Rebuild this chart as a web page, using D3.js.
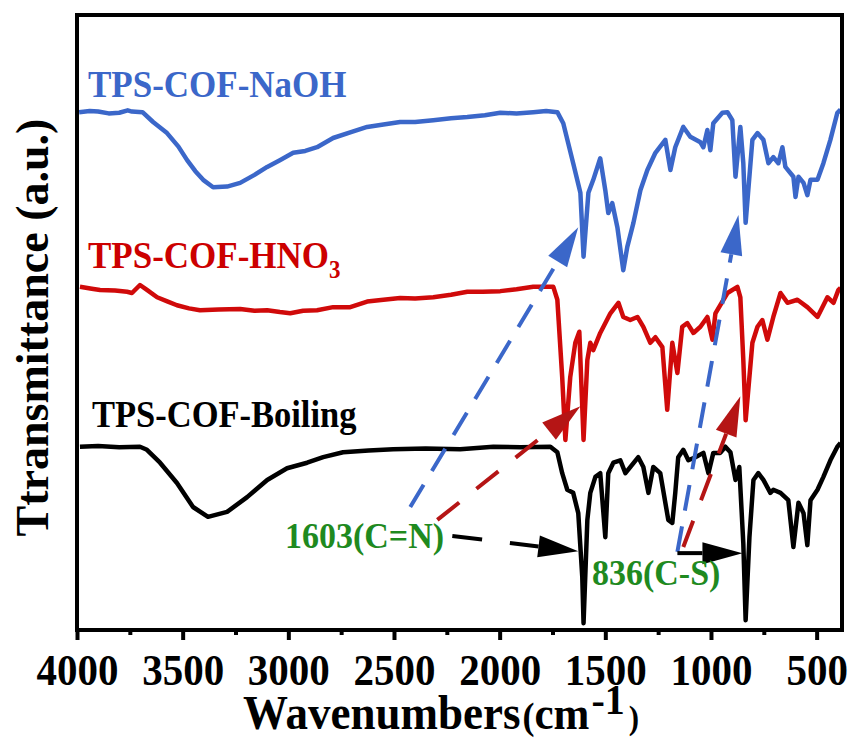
<!DOCTYPE html>
<html>
<head>
<meta charset="utf-8">
<script src="https://cdn.jsdelivr.net/npm/d3@7"></script>
<style>
  body { margin: 0; background: #fff; }
  text { font-family: "Liberation Serif", "Times New Roman", serif; font-weight: bold; }
</style>
</head>
<body>
<div id="chart"></div>
<script>
// FTIR spectra, wavenumber (cm-1) vs transmittance (a.u., curves offset)
var naoh = [
  [3990, 84.2], [3940, 84.4], [3900, 84.3], [3850, 84.0], [3800, 84.1], [3760, 84.5],
  [3740, 84.3], [3690, 84.2], [3640, 82.6], [3574, 80.8], [3520, 78.6],
  [3479, 76.4], [3440, 74.6], [3403, 73.2], [3356, 72.0], [3290, 72.1], [3228, 72.7],
  [3160, 74.0], [3100, 75.3], [3040, 76.4], [2977, 77.6], [2920, 77.9],
  [2864, 78.5], [2788, 80.0], [2700, 81.0], [2627, 81.8], [2550, 82.2], [2471, 82.6],
  [2400, 82.6], [2314, 82.9], [2230, 83.2], [2153, 83.4], [2070, 83.7],
  [1997, 84.1], [1920, 84.0], [1841, 84.2], [1780, 84.4], [1727, 84.2], [1699, 82.4],
  [1652, 75.9], [1618, 71.1],
  [1603, 60.7], [1580, 71.1], [1557, 73.2], [1524, 76.7], [1500, 71.5], [1486, 67.8],
  [1467, 69.4], [1443, 65.5], [1415, 58.5], [1396, 62.3], [1367, 66.2], [1334, 71.5],
  [1301, 74.8], [1263, 77.6], [1216, 79.7], [1192, 74.8], [1169, 78.5], [1131, 81.8],
  [1098, 80.2], [1050, 79.3], [1036, 78.5], [1017, 81.3], [1003, 78.0], [989, 82.4],
  [946, 84.1], [922, 84.2], [899, 82.9], [884, 73.7], [861, 81.8], [847, 75.9],
  [836, 66.2], [804, 79.7], [780, 80.8], [752, 79.7], [728, 75.9], [705, 76.9],
  [681, 75.9], [662, 78.5], [648, 75.3], [610, 73.7], [600, 70.4], [586, 73.7],
  [562, 72.7], [544, 70.7], [529, 73.2], [496, 73.2], [468, 75.9], [435, 79.7],
  [402, 84.1], [387, 84.6]
];

var hno3 = [
  [3986, 55.8], [3930, 55.5], [3891, 55.3], [3820, 55.2], [3763, 55.0], [3740, 54.8],
  [3702, 56.1], [3669, 55.3],
  [3621, 54.1], [3570, 53.4], [3527, 52.8], [3470, 52.3], [3418, 52.0], [3330, 52.1],
  [3228, 52.2], [3160, 51.9], [3100, 52.0], [3040, 51.7], [2991, 51.5],
  [2930, 51.9], [2864, 52.0], [2788, 52.5], [2707, 52.5], [2627, 53.4], [2550, 53.7],
  [2471, 54.0], [2400, 53.9], [2314, 54.1],
  [2230, 54.5], [2153, 55.0], [2080, 55.0], [1997, 55.1], [1920, 55.4], [1841, 55.8],
  [1746, 55.8], [1727, 53.7], [1704, 41.1],
  [1689, 30.9], [1666, 41.1], [1642, 46.7], [1623, 48.5], [1603, 30.9], [1585, 43.9],
  [1571, 46.7], [1557, 45.5], [1524, 48.3], [1476, 51.5], [1438, 53.2], [1415, 50.9],
  [1382, 50.4], [1348, 50.9], [1320, 49.3], [1287, 46.7], [1263, 47.6], [1230, 46.0],
  [1207, 35.8], [1183, 46.7], [1159, 41.8], [1136, 49.3], [1112, 49.9], [1083, 48.3],
  [1050, 49.3], [1017, 50.9], [993, 47.2], [979, 51.5], [922, 54.8], [875, 55.8],
  [861, 54.1], [847, 43.9], [836, 34.1], [804, 46.7], [780, 49.3], [757, 50.4],
  [733, 47.2], [705, 50.9], [671, 54.8], [638, 53.2], [591, 53.7], [544, 52.5],
  [496, 50.9], [449, 54.1], [420, 53.2], [397, 55.3], [387, 55.6]
];

var boiling = [
  [3986, 29.8], [3900, 29.9], [3800, 29.7], [3702, 29.8], [3669, 29.3], [3607, 27.2],
  [3527, 23.9], [3451, 20.0],
  [3380, 18.4], [3290, 19.2], [3195, 21.6], [3100, 24.4], [3006, 26.3], [2911, 27.2],
  [2835, 28.1], [2741, 28.9], [2620, 29.2], [2504, 29.4], [2350, 29.5], [2187, 29.4],
  [2030, 29.8], [1900, 29.7], [1760, 29.8],
  [1727, 28.9], [1704, 25.5], [1680, 22.8], [1652, 22.3], [1628, 19.0], [1609, 8.6],
  [1603, 1.1], [1585, 17.9], [1571, 22.3], [1547, 24.9], [1524, 25.5], [1500, 15.1],
  [1486, 25.5], [1462, 27.2], [1429, 27.6], [1405, 25.5], [1382, 26.5], [1344, 28.1],
  [1320, 26.5], [1296, 22.3], [1273, 26.5], [1240, 25.5], [1202, 17.9], [1183, 17.4],
  [1169, 22.3], [1155, 28.1], [1131, 29.3], [1107, 27.6], [1074, 28.1], [1036, 28.8],
  [1012, 25.5], [989, 28.8], [956, 28.8], [932, 29.8], [908, 28.9], [884, 24.4],
  [866, 26.5], [847, 14.1], [836, 1.6], [818, 15.1], [799, 24.4], [776, 25.5],
  [752, 24.4], [719, 22.3], [705, 22.8], [671, 22.3], [634, 21.1], [610, 13.5],
  [586, 20.7], [562, 19.0], [544, 13.8], [529, 21.1], [496, 22.8], [468, 24.9],
  [435, 27.6], [402, 29.8], [387, 30.4]
];

var majorTicks = [4000, 3500, 3000, 2500, 2000, 1500, 1000, 500];
var minorTicks = [3750, 3250, 2750, 2250, 1750, 1250, 750];

// peak-assignment arrows: from / to in (wavenumber, a.u.)
var arrows = [
  { from: [2423, 20.0], to: [1628, 65.5], color: "#3b67c9", dash: "26,16" },
  { from: [1159, 12.7], to: [870, 67.5], color: "#3b67c9", dash: "26,16" },
  { from: [2295, 17.9], to: [1618, 36.4], color: "#b51515", dash: "28,22" },
  { from: [1131, 13.5], to: [861, 38.0], color: "#b51515", dash: "28,22" },
  { from: [2224, 15.3], to: [1628, 12.8], color: "#000", dash: "30,28" },
  { from: [1159, 12.5], to: [851, 12.5], color: "#000", dash: null }
];

var w = 855;
var h = 738;
var plotLeft = 77, plotRight = 842, plotTop = 15, plotBottom = 630;
var stretch = " scale(1,1.08)";

var svg = d3.select("#chart")
    .append("svg")
    .attr("width", w)
    .attr("height", h);

var xScale = d3.scaleLinear().domain([4000, 380]).range([plotLeft, plotRight]);
var yScale = d3.scaleLinear().domain([0, 100]).range([plotBottom, plotTop]);

svg.append("clipPath").attr("id", "clip")
    .append("rect")
    .attr("x", plotLeft).attr("y", plotTop)
    .attr("width", plotRight - plotLeft).attr("height", plotBottom - plotTop);

var line = d3.line()
    .x(function (d) { return xScale(d[0]); })
    .y(function (d) { return yScale(d[1]); });

var series = [
  { data: naoh, color: "#3b67c9" },
  { data: hno3, color: "#d00a0a" },
  { data: boiling, color: "#000" }
];

svg.append("g").attr("clip-path", "url(#clip)")
    .selectAll("path")
    .data(series)
    .enter().append("path")
    .attr("d", function (d) { return line(d.data); })
    .attr("fill", "none")
    .attr("stroke", function (d) { return d.color; })
    .attr("stroke-width", 4.5)
    .attr("stroke-linejoin", "round");

// arrows
var ag = svg.append("g");
arrows.forEach(function (a) {
    var x1 = xScale(a.from[0]), y1 = yScale(a.from[1]);
    var x2 = xScale(a.to[0]), y2 = yScale(a.to[1]);
    var dx = x2 - x1, dy = y2 - y1, len = Math.hypot(dx, dy);
    var ux = dx / len, uy = dy / len;
    var L = 40, hw = 11;
    var bx = x2 - ux * L, by = y2 - uy * L;
    ag.append("line")
        .attr("x1", x1).attr("y1", y1).attr("x2", bx).attr("y2", by)
        .attr("stroke", a.color).attr("stroke-width", 4)
        .attr("stroke-dasharray", a.dash);
    ag.append("path")
        .attr("d", "M" + x2 + "," + y2 + "L" + (bx - uy * hw) + "," + (by + ux * hw) +
                   "L" + (bx + uy * hw) + "," + (by - ux * hw) + "Z")
        .attr("fill", a.color);
});

// frame
svg.append("rect")
    .attr("x", plotLeft).attr("y", plotTop)
    .attr("width", plotRight - plotLeft).attr("height", plotBottom - plotTop)
    .attr("fill", "none").attr("stroke", "#000").attr("stroke-width", 4);

// x axis
var xAxis = d3.axisBottom(xScale).tickValues(majorTicks).tickSize(10).tickFormat(d3.format("d"));
var gx = svg.append("g")
    .attr("transform", "translate(0," + plotBottom + ")")
    .call(xAxis);
gx.select(".domain").remove();
gx.selectAll(".tick line").attr("stroke", "#000").attr("stroke-width", 4);
gx.selectAll(".tick text")
    .attr("y", 0).attr("dy", null)
    .attr("transform", "translate(0,55)" + stretch)
    .attr("fill", "#000")
    .style("font-size", "41px");

var gm = svg.append("g")
    .attr("transform", "translate(0," + plotBottom + ")")
    .call(d3.axisBottom(xScale).tickValues(minorTicks).tickSize(5).tickFormat(""));
gm.select(".domain").remove();
gm.selectAll(".tick line").attr("stroke", "#000").attr("stroke-width", 4);

// helper: text placed at (x, y) and slightly stretched vertically like the original figure
function label(x, y, size, color) {
    return svg.append("text")
        .attr("transform", "translate(" + x + "," + y + ")" + stretch)
        .style("font-size", size + "px")
        .attr("fill", color);
}

// axis titles
var xt = label(243, 729, 45, "#000");
xt.append("tspan").text("Wavenumbers");
xt.append("tspan").style("font-size", "36px").attr("dx", 2).text("(");
xt.append("tspan").style("font-size", "43px").text("cm");
xt.append("tspan").style("font-size", "40px").attr("dx", 2).attr("dy", -14).text("-1");
xt.append("tspan").style("font-size", "31px").attr("dx", 4).attr("dy", 14).text(")");

svg.append("text")
    .attr("transform", "translate(48," + ((plotTop + plotBottom) / 2 + 5) + ") rotate(-90)")
    .attr("text-anchor", "middle")
    .style("font-size", "46px")
    .attr("fill", "#000")
    .text("Ttransmittance (a.u.)");

// series labels
label(88, 97, 35, "#3b67c9").text("TPS-COF-NaOH");
var hl = label(88, 268, 35, "#cc0000");
hl.append("tspan").text("TPS-COF-HNO");
hl.append("tspan").attr("dy", 9).style("font-size", "23px").text("3");
label(92, 427, 34.5, "#000").text("TPS-COF-Boiling");

// peak labels
label(285, 548, 34, "#1f8a1f").text("1603(C=N)");
label(592, 585, 34, "#1f8a1f").text("836(C-S)");
</script>
</body>
</html>
